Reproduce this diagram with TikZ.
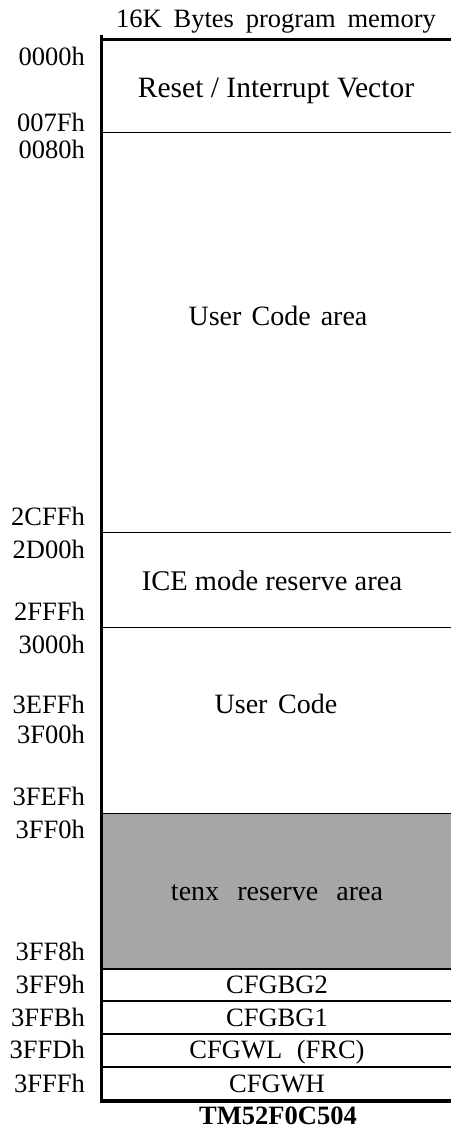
\documentclass[tikz,border=0pt]{standalone}
\usepackage{fontspec}
\setmainfont{Liberation Serif}
\definecolor{resgray}{RGB}{166,166,166}
\tikzset{
  addr/.style={anchor=base east, inner sep=0pt, font=\fontsize{26.5bp}{30bp}\selectfont},
  area/.style={anchor=base, inner sep=0pt, font=\fontsize{28bp}{32bp}\selectfont},
  cfg/.style={anchor=base, inner sep=0pt, font=\fontsize{26.5bp}{30bp}\selectfont},
  thinline/.style={line width=1.6bp},
  thickline/.style={line width=3.2bp}
}
\newcommand{\wsp}[1][0.45em]{\hspace{#1}}
\begin{document}
\begin{tikzpicture}[x=1bp,y=-1bp]
\useasboundingbox (0,0) rectangle (451,1128);
% gray area
\fill[resgray] (102,814) rectangle (451,969);
% horizontal lines
\draw[thickline] (100,39.5) -- (451,39.5);
\draw[thinline] (102,132.5) -- (451,132.5);
\draw[thinline] (102,532.5) -- (451,532.5);
\draw[thinline] (102,627.5) -- (451,627.5);
\draw[thinline] (102,813.5) -- (451,813.5);
\draw[thinline] (102,969) -- (451,969);
\draw[thinline] (102,1001) -- (451,1001);
\draw[thinline] (102,1034) -- (451,1034);
\draw[thinline] (102,1067) -- (451,1067);
\draw[thickline] (100,1101) -- (451,1101);
% left border
\draw[thickline] (101.5,35) -- (101.5,1102.6);
% title
\node[cfg] (title) at (276,27) {16K\wsp Bytes\wsp program\wsp memory};
% addresses
\node[addr] (a0000) at (85,65) {0000h};
\node[addr] (a007F) at (85,131) {007Fh};
\node[addr] (a0080) at (85,158) {0080h};
\node[addr] (a2CFF) at (85,525) {2CFFh};
\node[addr] (a2D00) at (85,558) {2D00h};
\node[addr] (a2FFF) at (85,620) {2FFFh};
\node[addr] (a3000) at (85,653) {3000h};
\node[addr] (a3EFF) at (85,713) {3EFFh};
\node[addr] (a3F00) at (85,743) {3F00h};
\node[addr] (a3FEF) at (85,805) {3FEFh};
\node[addr] (a3FF0) at (85,838) {3FF0h};
\node[addr] (a3FF8) at (85,960) {3FF8h};
\node[addr] (a3FF9) at (85,993) {3FF9h};
\node[addr] (a3FFB) at (85,1026) {3FFBh};
\node[addr] (a3FFD) at (85,1058) {3FFDh};
\node[addr] (a3FFF) at (85,1092) {3FFFh};
% areas
\node[area, font=\fontsize{29.5bp}{33bp}\selectfont] (reset) at (276,97) {Reset / Interrupt Vector};
\node[area] (user1) at (278,325) {User\wsp[0.36em]Code\wsp[0.36em]area};
\node[area, font=\fontsize{28.5bp}{32bp}\selectfont] (ice) at (272,590) {ICE mode reserve area};
\node[area] (user2) at (276,713) {User\wsp[0.38em]Code};
\node[area] (tenx) at (277,900) {tenx\wsp[0.65em]reserve\wsp[0.65em]area};
\node[cfg] (bg2) at (277,993) {CFGBG2};
\node[cfg] (bg1) at (277,1026) {CFGBG1};
\node[cfg] (wl) at (277,1058) {CFGWL\wsp[0.55em](FRC)};
\node[cfg] (wh) at (277,1092) {CFGWH};
\node[cfg, font=\fontsize{26.5bp}{30bp}\selectfont\bfseries] (chip) at (278,1124.5) {TM52F0C504};
\end{tikzpicture}
\end{document}
